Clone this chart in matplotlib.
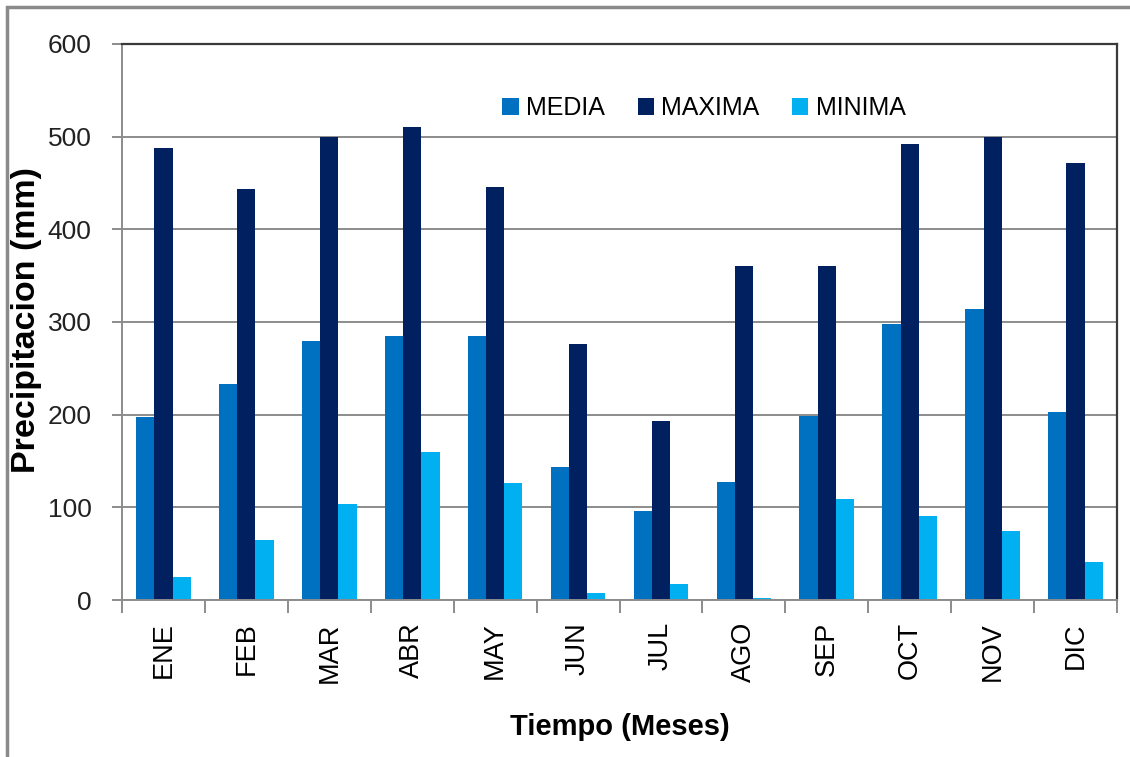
import numpy as np
import matplotlib
matplotlib.use("Agg")
import matplotlib.pyplot as plt
from matplotlib.patches import Rectangle

# Datos de precipitacion mensual (mm)
months = ["ENE", "FEB", "MAR", "ABR", "MAY", "JUN", "JUL", "AGO", "SEP", "OCT", "NOV", "DIC"]
media = [197, 233, 280, 285, 285, 143, 96, 127, 199, 298, 314, 203]
maxima = [488, 444, 500, 510, 446, 276, 193, 360, 360, 492, 500, 472]
minima = [25, 65, 104, 160, 126, 8, 17, 2, 109, 91, 74, 41]

COLORS = ["#0070C0", "#002060", "#00B0F0"]
NAMES = ["MEDIA", "MAXIMA", "MINIMA"]

plt.rcParams["font.family"] = ["Liberation Sans", "DejaVu Sans"]

W, H = 1130, 757
fig = plt.figure(figsize=(W / 100, H / 100), dpi=100)
ax = fig.add_axes([122 / W, 1 - 600 / H, (1117 - 122) / W, (600 - 44) / H])

x = np.arange(len(months))
bw = 0.22
for k, (vals, col, name) in enumerate(zip([media, maxima, minima], COLORS, NAMES)):
    ax.bar(x + (k - 1) * bw, vals, width=bw, color=col, label=name, zorder=3)

ax.set_xlim(-0.5, len(months) - 0.5)
ax.set_ylim(0, 600)
ax.set_yticks(np.arange(0, 601, 100))
ax.grid(axis="y", color="#8c8c8c", linewidth=1.4, zorder=0)

# ticks between categories, labels centred
ax.set_xticks(x)
ax.set_xticklabels(months, rotation=90, fontsize=19.5)
ax.tick_params(axis="x", which="major", length=0, pad=16)
ax.set_xticks(np.arange(-0.5, len(months)), minor=True)
ax.tick_params(axis="x", which="minor", length=9, width=1.4, color="#8c8c8c", direction="out")
ax.tick_params(axis="y", length=7, width=1.4, color="#8c8c8c", pad=15, labelsize=19,
               labelcolor="#222222")

for side in ["left", "bottom"]:
    ax.spines[side].set_color("#8c8c8c")
    ax.spines[side].set_linewidth(1.4)
for side in ["top", "right"]:
    ax.spines[side].set_color("#3a3a3a")
    ax.spines[side].set_linewidth(1.6)
ax.spines["bottom"].set_zorder(4)

leg = fig.legend(loc="center", bbox_to_anchor=(704 / W, 1 - 108 / H), ncol=3, frameon=False,
                 handlelength=0.65, handleheight=0.65, handletextpad=0.3, columnspacing=1.3,
                 prop={"size": 18})

fig.text(27 / W, 1 - 320 / H, "Precipitacion (mm)", rotation=90, ha="center", va="center",
         fontsize=24.5, fontweight="bold")
fig.text(620 / W, 1 - 727 / H, "Tiempo (Meses)", ha="center", va="center",
         fontsize=21, fontweight="bold")

# marco exterior gris
fig.patches.append(Rectangle((7 / W, -0.1), 1.2, 1 - 7 / H + 0.1, transform=fig.transFigure,
                             fill=False, edgecolor="#8a8a8a", linewidth=2.5))

fig.savefig("out.png", dpi=100)
